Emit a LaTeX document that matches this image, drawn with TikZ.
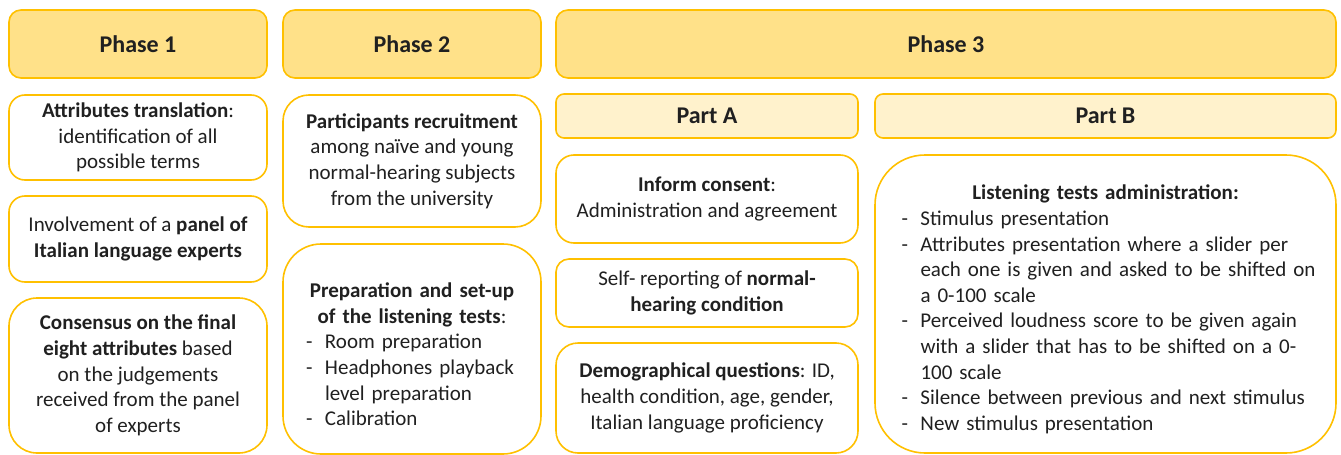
\documentclass[tikz,border=0pt]{standalone}
\usepackage{fontspec}
\setmainfont{Carlito}
\definecolor{gold}{HTML}{FFC000}
\definecolor{hdrfill}{HTML}{FFE189}
\definecolor{partfill}{HTML}{FFF2CC}
\definecolor{txt}{HTML}{202020}
\newcommand\bodyfont{\fontsize{21}{25.6}\selectfont}
\newcommand\hdrfont{\fontsize{24}{28}\selectfont\bfseries}
\newcommand\li[1]{\par\noindent\makebox[19pt][l]{-}\mbox{#1}}
\newcommand\cont[1]{\par\noindent\hspace*{19pt}\mbox{#1}}
\tikzset{
  base/.style={draw=gold, line width=1.6pt, inner sep=0pt, text=txt},
  phasehdr/.style={base, fill=hdrfill, rounded corners=12pt, minimum height=68pt, font=\hdrfont},
  parthdr/.style={base, fill=partfill, rounded corners=8pt, minimum height=44pt, font=\hdrfont},
  card/.style={base, fill=white, align=center, font=\bodyfont},
  listcard/.style={base, fill=white, font=\bodyfont},
}
\begin{document}
\begin{tikzpicture}[x=1pt,y=-1pt]
\useasboundingbox (0,0) rectangle (1341,455);
% headers
\node[phasehdr, minimum width=258pt] (ph1) at (138,44) {Phase 1};
\node[phasehdr, minimum width=258pt] (ph2) at (412,44) {Phase 2};
\node[phasehdr, minimum width=780pt] (ph3) at (946,44) {Phase 3};
\node[parthdr, minimum width=302pt] (pa) at (707,116) {Part A};
\node[parthdr, minimum width=461pt] (pb) at (1105.5,116) {Part B};
% phase 1
\node[card, minimum width=258pt, minimum height=85pt, rounded corners=16pt] (p1a) at (138,137.5)
  {\textbf{Attributes translation}:\\ identification of all\\ possible terms};
\node[card, minimum width=258pt, minimum height=86pt, rounded corners=16pt] (p1b) at (138,239)
  {Involvement of a \textbf{panel of}\\ \textbf{Italian language experts}};
\node[card, minimum width=258pt, minimum height=155pt, rounded corners=28pt] (p1c) at (138,375.5)
  {\textbf{Consensus on the final}\\ \textbf{eight attributes} based\\ on the judgements\\ received from the panel\\ of experts};
% phase 2
\node[card, minimum width=258pt, minimum height=132pt, rounded corners=26pt] (p2a) at (412,161)
  {\textbf{Participants recruitment}\\ among na\"ive and young\\ normal-hearing subjects\\ from the university};
\node[listcard, minimum width=258pt, minimum height=210pt, rounded corners=38pt, text width=212pt] (p2b) at (412,349)
  {\par\noindent\makebox[212pt][c]{\textbf{Preparation and set-up}}
   \par\noindent\makebox[212pt][c]{\textbf{of the listening tests}:}
   \li{Room preparation}
   \li{Headphones playback}
   \cont{level preparation}
   \li{Calibration}};
% part A
\node[card, minimum width=302pt, minimum height=88pt, rounded corners=18pt] (a1) at (707,199)
  {\textbf{Inform consent}:\\ Administration and agreement};
\node[card, minimum width=302pt, minimum height=68pt, rounded corners=13pt] (a2) at (707,293)
  {Self- reporting of \textbf{normal-}\\ \textbf{hearing condition}};
\node[card, minimum width=302pt, minimum height=110pt, rounded corners=22pt] (a3) at (707,398)
  {\textbf{Demographical questions}: ID,\\ health condition, age, gender,\\ Italian language proficiency};
% part B
\node[listcard, minimum width=461pt, minimum height=298pt, rounded corners=50pt, text width=408pt] (b1) at (1105.5,304)
  {\par\noindent\makebox[408pt][c]{\textbf{Listening tests administration:}}
   \li{Stimulus presentation}
   \li{Attributes presentation where a slider per}
   \cont{each one is given and asked to be shifted on}
   \cont{a 0-100 scale}
   \li{Perceived loudness score to be given again}
   \cont{with a slider that has to be shifted on a 0-}
   \cont{100 scale}
   \li{Silence between previous and next stimulus}
   \li{New stimulus presentation}};
\end{tikzpicture}
\end{document}
